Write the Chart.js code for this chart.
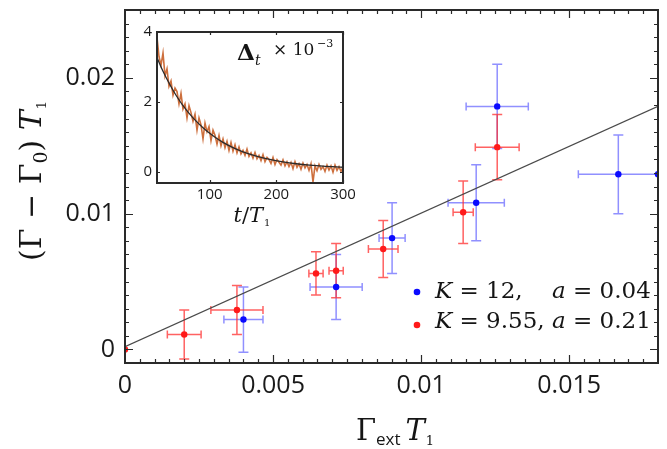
<!DOCTYPE html>
<html>
<head>
<meta charset="utf-8">
<script src="https://cdn.jsdelivr.net/npm/chart.js@4"></script>
<style>
  html, body { margin: 0; padding: 0; background: #fff; }
  #wrap { position: relative; width: 667px; height: 449px; }
  #main { position: absolute; left: 0; top: 0; }
  #inset { position: absolute; left: 120px; top: 22px; }
</style>
</head>
<body>
<div id="wrap">
  <canvas id="main" width="667" height="449"></canvas>
  <canvas id="inset" width="235" height="205"></canvas>
</div>
<script>
// main panel: K = 12 (blue)
const blueX = [0.0040, 0.00713, 0.00902, 0.01186, 0.01257, 0.01666, 0.0180];
const blueY = [0.0022, 0.0046, 0.0082, 0.0108, 0.0179, 0.0129, 0.0129];
const blueXErr = [0.00066, 0.00088, 0.00044, 0.00095, 0.00105, 0.00135, 0];
const blueYErr = [0.0024, 0.0024, 0.0026, 0.0028, 0.0031, 0.0029, 0];
// main panel: K = 9.55 (red)
const redX = [0, 0.0020, 0.00378, 0.00645, 0.00713, 0.00872, 0.01142, 0.01257];
const redY = [0, 0.0011, 0.0029, 0.0056, 0.0058, 0.0074, 0.0101, 0.0149];
const redXErr = [0, 0.00057, 0.00088, 0.00024, 0.00024, 0.0005, 0.00034, 0.00074];
const redYErr = [0, 0.0018, 0.0018, 0.0016, 0.0020, 0.0021, 0.0023, 0.0024];
// straight fit
const fitX = [0, 0.018];
const fitY = [0.0002, 0.0179];
const xTicks = [0, 0.005, 0.01, 0.015];
const yTicks = [0, 0.01, 0.02];

// inset: Delta_t x 10^-3 vs t/T1
const tVals = [21, 24, 27, 30, 33, 36, 39, 42, 45, 48, 51, 54, 57, 60, 63, 66, 69, 72, 75, 78,
  81, 84, 87, 90, 93, 96, 99, 102, 105, 108, 111, 114, 117, 120, 123, 126, 129, 132, 135, 138,
  141, 144, 147, 150, 153, 156, 159, 162, 165, 168, 171, 174, 177, 180, 183, 186, 189, 192, 195, 198,
  201, 204, 207, 210, 213, 216, 219, 222, 225, 228, 231, 234, 237, 240, 243, 246, 249, 252, 255, 258,
  261, 264, 267, 270, 273, 276, 279, 282, 285, 288, 291, 294, 297, 300];
const deltaVals = [3.85, 3.30, 3.05, 3.40, 2.75, 2.95, 2.45, 2.60, 2.20, 2.40, 2.30, 1.95, 2.25, 1.80, 1.95, 1.55, 1.90, 1.70, 1.45, 1.65,
  1.20, 1.55, 1.35, 0.95, 1.40, 1.15, 1.30, 0.90, 1.20, 1.05, 0.80, 1.05, 0.75, 0.95, 0.70, 0.88, 0.62, 0.85, 0.60, 0.78,
  0.55, 0.72, 0.52, 0.62, 0.48, 0.66, 0.45, 0.55, 0.40, 0.56, 0.38, 0.48, 0.33, 0.50, 0.30, 0.42, 0.36, 0.25, 0.42, 0.22,
  0.36, 0.28, 0.20, 0.35, 0.18, 0.30, 0.16, 0.28, 0.10, 0.30, 0.14, 0.24, 0.08, 0.26, 0.12, 0.22, 0.05, 0.24, -0.28, 0.18,
  0.04, 0.22, 0.08, 0.16, 0.02, 0.20, 0.06, 0.18, 0.00, 0.20, 0.05, 0.16, 0.02, 0.14];
const fitT = [21, 30, 40, 50, 60, 75, 90, 105, 120, 135, 150, 170, 190, 210, 230, 250, 270, 300];
const fitD = [3.27, 2.88, 2.51, 2.18, 1.90, 1.55, 1.27, 1.04, 0.85, 0.70, 0.58, 0.46, 0.365, 0.294, 0.24, 0.20, 0.17, 0.14];
const insetXTicks = [100, 200, 300];
const insetYTicks = [0, 2, 4];

// texts
const yTitle = ['(Γ − Γ', '0', ') ', 'T', '1'];
const xTitle = ['Γ', 'ext', 'T', '1'];
const legendK = ['K', ' = 12,', ' = 9.55,'];
const legendA = ['a', ' = 0.04', ' = 0.21'];
const insetTitle = ['t', '/', 'T', '1'];
const insetNote = ['Δ', 't', '× 10', '−3'];

const SERIF = '"DejaVu Serif"';
const fmt = v => String(Number(Number(v).toFixed(4)));

function drawPieces(ctx, pieces, x, y, center) {
  let w = 0;
  pieces.forEach(p => { ctx.font = p[1]; w += ctx.measureText(p[0]).width + (p[2] || 0); });
  let cx = center ? x - w / 2 : x;
  pieces.forEach(p => {
    ctx.font = p[1];
    cx += p[2] || 0;
    ctx.fillText(p[0], cx, y + (p[3] || 0));
    cx += ctx.measureText(p[0]).width;
  });
}

// keep the plot box where it is, whatever the tick labels ask for
function fixBox(size, key) {
  return s => {
    s[key] = size;
    s.paddingTop = 0; s.paddingBottom = 0; s.paddingLeft = 0; s.paddingRight = 0;
  };
}

const errorBars = {
  id: 'errorBars',
  beforeDatasetsDraw(chart) {
    const {ctx, chartArea: a, scales: {x, y}} = chart;
    ctx.save();
    ctx.beginPath();
    ctx.rect(a.left, a.top, a.width, a.height);
    ctx.clip();
    ctx.lineWidth = 1.5;
    const sets = [
      [blueX, blueY, blueXErr, blueYErr, 'rgba(70,70,255,0.6)'],
      [redX, redY, redXErr, redYErr, 'rgba(255,45,45,0.75)']
    ];
    sets.forEach(([xs, ys, xe, ye, col]) => {
      ctx.strokeStyle = col;
      xs.forEach((xv, i) => {
        const py = y.getPixelForValue(ys[i]);
        const px = x.getPixelForValue(xv);
        ctx.beginPath();
        if (xe[i] > 0) {
          const l = x.getPixelForValue(xv - xe[i]), r = x.getPixelForValue(xv + xe[i]);
          ctx.moveTo(l, py); ctx.lineTo(r, py);
          ctx.moveTo(l, py - 4); ctx.lineTo(l, py + 4);
          ctx.moveTo(r, py - 4); ctx.lineTo(r, py + 4);
        }
        if (ye[i] > 0) {
          const t = y.getPixelForValue(ys[i] + ye[i]), b = y.getPixelForValue(ys[i] - ye[i]);
          ctx.moveTo(px, t); ctx.lineTo(px, b);
          ctx.moveTo(px - 5, t); ctx.lineTo(px + 5, t);
          ctx.moveTo(px - 5, b); ctx.lineTo(px + 5, b);
        }
        ctx.stroke();
      });
    });
    ctx.restore();
  }
};

const frameTicks = {
  id: 'frameTicks',
  afterDraw(chart) {
    const {ctx, chartArea: a, scales: {x, y}} = chart;
    ctx.save();
    ctx.strokeStyle = '#2a2a2a';
    ctx.lineWidth = 1.2;
    ctx.beginPath();
    for (let i = 1; i * 0.0005 < x.max - 1e-9; i++) {
      const px = Math.round(x.getPixelForValue(i * 0.0005)) + 0.5;
      const len = i % 10 === 0 ? 8 : 4;
      ctx.moveTo(px, a.bottom); ctx.lineTo(px, a.bottom - len);
      ctx.moveTo(px, a.top); ctx.lineTo(px, a.top + len);
    }
    for (let i = 0; -0.001 + i * 0.001 < y.max - 1e-9; i++) {
      const v = -0.001 + i * 0.001;
      const py = Math.round(y.getPixelForValue(v)) + 0.5;
      const len = (i - 1) % 10 === 0 ? 8 : 4;
      ctx.moveTo(a.left, py); ctx.lineTo(a.left + len, py);
      ctx.moveTo(a.right, py); ctx.lineTo(a.right - len, py);
    }
    ctx.stroke();
    ctx.lineWidth = 2;
    ctx.strokeRect(a.left, a.top, a.width, a.height);
    ctx.restore();
  }
};

const richLabels = {
  id: 'richLabels',
  afterDraw(chart) {
    const ctx = chart.ctx;
    ctx.save();
    ctx.fillStyle = '#151515';
    ctx.textBaseline = 'alphabetic';
    // y title (rotated)
    ctx.save();
    ctx.translate(41, 181);
    ctx.rotate(-Math.PI / 2);
    drawPieces(ctx, [
      [yTitle[0], '30px ' + SERIF],
      [yTitle[1], '19px ' + SERIF, 0, 6],
      [yTitle[2], '30px ' + SERIF],
      [yTitle[3], 'italic 30px ' + SERIF],
      [yTitle[4], '13px ' + SERIF, 1, 5]
    ], 0, 0, true);
    ctx.restore();
    // x title
    drawPieces(ctx, [
      [xTitle[0], '29px ' + SERIF],
      [xTitle[1], '17px "Open Sans"', 0, 5],
      [xTitle[2], 'italic 29px ' + SERIF, 5],
      [xTitle[3], '13px ' + SERIF, 1, 5]
    ], 395, 440, true);
    // legend
    const rows = [[292, 298, '#0a0aff', legendK[1], legendA[1]], [325, 328, '#ff1a1a', legendK[2], legendA[2]]];
    rows.forEach(([dy, base, col, k, av]) => {
      ctx.fillStyle = col;
      ctx.beginPath();
      ctx.arc(417, dy, 3.3, 0, Math.PI * 2);
      ctx.fill();
      ctx.fillStyle = '#151515';
      drawPieces(ctx, [[legendK[0], 'italic 23px ' + SERIF], [k, '23px ' + SERIF]], 435, base, false);
      drawPieces(ctx, [[legendA[0], 'italic 23px ' + SERIF], [av, '23px ' + SERIF]], 552, base, false);
    });
    ctx.restore();
  }
};

const mainChart = new Chart(document.getElementById('main'), {
  type: 'scatter',
  data: {
    datasets: [
      {
        label: 'fit',
        data: fitX.map((v, i) => ({x: v, y: fitY[i]})),
        showLine: true,
        borderColor: '#4a4a4a',
        borderWidth: 1.2,
        pointRadius: 0,
        clip: 0
      },
      {
        label: 'K = 12, a = 0.04',
        data: blueX.map((v, i) => ({x: v, y: blueY[i]})),
        pointRadius: 3.2,
        backgroundColor: '#0a0aff',
        borderWidth: 0,
        clip: 0
      },
      {
        label: 'K = 9.55, a = 0.21',
        data: redX.map((v, i) => ({x: v, y: redY[i]})),
        pointRadius: 3.2,
        backgroundColor: '#ff1a1a',
        borderWidth: 0,
        clip: 0
      }
    ]
  },
  options: {
    responsive: false,
    animation: false,
    devicePixelRatio: 1,
    layout: {padding: {left: 0, right: 9, top: 10, bottom: 0}},
    plugins: {legend: {display: false}, tooltip: {enabled: false}},
    scales: {
      x: {
        type: 'linear', min: 0, max: 0.018,
        grid: {display: false, drawTicks: false},
        border: {display: false},
        afterBuildTicks: s => { s.ticks = xTicks.map(v => ({value: v})); },
        afterFit: fixBox(86, 'height'),
        ticks: {font: {family: 'Open Sans', size: 25}, color: '#1a1a1a', padding: 8, maxRotation: 0, autoSkip: false, callback: fmt}
      },
      y: {
        type: 'linear', min: -0.001, max: 0.025,
        grid: {display: false, drawTicks: false},
        border: {display: false},
        afterBuildTicks: s => { s.ticks = yTicks.map(v => ({value: v})); },
        afterFit: fixBox(125, 'width'),
        ticks: {font: {family: 'Open Sans', size: 25}, color: '#1a1a1a', padding: 10, autoSkip: false, callback: fmt}
      }
    }
  },
  plugins: [errorBars, frameTicks, richLabels]
});

const insetDeco = {
  id: 'insetDeco',
  beforeDraw(chart) {
    const {ctx, chartArea: a} = chart;
    ctx.save();
    ctx.fillStyle = '#fff';
    ctx.fillRect(a.left, a.top, a.width, a.height);
    ctx.restore();
  },
  afterDraw(chart) {
    const {ctx, chartArea: a, scales: {x, y}} = chart;
    ctx.save();
    ctx.strokeStyle = '#2a2a2a';
    ctx.lineWidth = 1.2;
    ctx.beginPath();
    insetXTicks.forEach(v => {
      const px = Math.round(x.getPixelForValue(v)) + 0.5;
      ctx.moveTo(px, a.bottom); ctx.lineTo(px, a.bottom - 3);
      ctx.moveTo(px, a.top); ctx.lineTo(px, a.top + 3);
    });
    insetYTicks.forEach(v => {
      const py = Math.round(y.getPixelForValue(v)) + 0.5;
      ctx.moveTo(a.left, py); ctx.lineTo(a.left + 3, py);
      ctx.moveTo(a.right, py); ctx.lineTo(a.right - 3, py);
    });
    ctx.stroke();
    ctx.lineWidth = 2;
    ctx.strokeRect(a.left, a.top, a.width, a.height);
    ctx.fillStyle = '#151515';
    // note in the corner
    ctx.font = 'bold 23px ' + SERIF;
    ctx.fillText(insetNote[0], 117, 38);
    ctx.font = 'italic 14px ' + SERIF;
    ctx.fillText(insetNote[1], 135, 43);
    ctx.font = '17px ' + SERIF;
    ctx.fillText(insetNote[2], 153, 33);
    ctx.font = '11px ' + SERIF;
    ctx.fillText(insetNote[3], 197, 25);
    // x title
    drawPieces(ctx, [
      [insetTitle[0], 'italic 21px ' + SERIF],
      [insetTitle[1], '21px ' + SERIF],
      [insetTitle[2], 'italic 21px ' + SERIF],
      [insetTitle[3], '10px ' + SERIF, 1, 4]
    ], 132, 200, true);
    ctx.restore();
  }
};

const insetChart = new Chart(document.getElementById('inset'), {
  type: 'line',
  data: {
    datasets: [
      {
        label: 'fit',
        data: fitT.map((v, i) => ({x: v, y: fitD[i]})),
        borderColor: '#2b2b2b',
        borderWidth: 1.3,
        pointRadius: 0,
        cubicInterpolationMode: 'monotone',
        clip: 0
      },
      {
        label: 'Delta_t',
        data: tVals.map((v, i) => ({x: v, y: deltaVals[i]})),
        borderColor: 'rgba(200,95,40,0.9)',
        borderWidth: 1.6,
        pointRadius: 0,
        clip: 0
      }
    ]
  },
  options: {
    responsive: false,
    animation: false,
    devicePixelRatio: 1,
    layout: {padding: {left: 0, right: 12, top: 10, bottom: 0}},
    plugins: {legend: {display: false}, tooltip: {enabled: false}},
    scales: {
      x: {
        type: 'linear', min: 21, max: 300,
        grid: {display: false, drawTicks: false},
        border: {display: false},
        afterBuildTicks: s => { s.ticks = insetXTicks.map(v => ({value: v})); },
        afterFit: fixBox(44, 'height'),
        ticks: {font: {family: 'Open Sans', size: 15}, color: '#1a1a1a', padding: 3, maxRotation: 0, autoSkip: false}
      },
      y: {
        type: 'linear', min: -0.31, max: 4,
        grid: {display: false, drawTicks: false},
        border: {display: false},
        afterBuildTicks: s => { s.ticks = insetYTicks.map(v => ({value: v})); },
        afterFit: fixBox(37, 'width'),
        ticks: {font: {family: 'Open Sans', size: 15}, color: '#1a1a1a', padding: 5, autoSkip: false}
      }
    }
  },
  plugins: [insetDeco]
});
</script>
</body>
</html>
